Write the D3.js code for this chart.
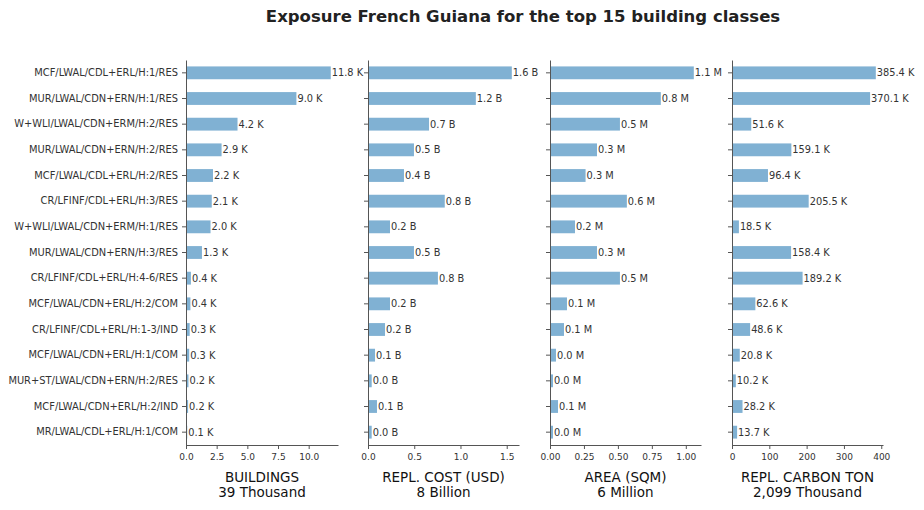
<!DOCTYPE html>
<html>
<head>
<meta charset="utf-8">
<script src="https://cdn.jsdelivr.net/npm/d3@7"></script>
<style>
	body { margin: 0; background: #fff; }
	svg { font-family: "DejaVu Sans", sans-serif; }
</style>
</head>
<body>
<svg id="chart" width="924" height="510"></svg>
<script>
const categories = [
	'MCF/LWAL/CDL+ERL/H:1/RES',
	'MUR/LWAL/CDN+ERN/H:1/RES',
	'W+WLI/LWAL/CDN+ERM/H:2/RES',
	'MUR/LWAL/CDN+ERN/H:2/RES',
	'MCF/LWAL/CDL+ERL/H:2/RES',
	'CR/LFINF/CDL+ERL/H:3/RES',
	'W+WLI/LWAL/CDN+ERM/H:1/RES',
	'MUR/LWAL/CDN+ERN/H:3/RES',
	'CR/LFINF/CDL+ERL/H:4-6/RES',
	'MCF/LWAL/CDN+ERL/H:2/COM',
	'CR/LFINF/CDL+ERL/H:1-3/IND',
	'MCF/LWAL/CDN+ERL/H:1/COM',
	'MUR+ST/LWAL/CDN+ERN/H:2/RES',
	'MCF/LWAL/CDN+ERL/H:2/IND',
	'MR/LWAL/CDL+ERL/H:1/COM'
];

// thousands
const buildings = [11.8, 9.0, 4.2, 2.9, 2.2, 2.1, 2.0, 1.3, 0.4, 0.36, 0.3, 0.26, 0.2, 0.17, 0.1];
// billions USD
const replCost = [1.555, 1.166, 0.66, 0.497, 0.389, 0.83, 0.238, 0.497, 0.756, 0.238, 0.184, 0.076, 0.04, 0.097, 0.04];
// millions sqm
const area = [1.059, 0.816, 0.515, 0.346, 0.262, 0.566, 0.184, 0.346, 0.515, 0.125, 0.103, 0.044, 0.022, 0.059, 0.022];
// thousands tons
const carbon = [385.4, 370.1, 51.6, 159.1, 96.4, 205.5, 18.5, 158.4, 189.2, 62.6, 48.6, 20.8, 10.2, 28.2, 13.7];

const panels = [
	{values: buildings, unit: 'K', title: 'BUILDINGS', total: '39 Thousand', ticks: [0, 2.5, 5, 7.5, 10], fmt: d3.format('.1f'), x0: 186, x1: 338},
	{values: replCost, unit: 'B', title: 'REPL. COST (USD)', total: '8 Billion', ticks: [0, 0.5, 1, 1.5], fmt: d3.format('.1f'), x0: 368, x1: 519},
	{values: area, unit: 'M', title: 'AREA (SQM)', total: '6 Million', ticks: [0, 0.25, 0.5, 0.75, 1], fmt: d3.format('.2f'), x0: 550, x1: 701},
	{values: carbon, unit: 'K', title: 'REPL. CARBON TON', total: '2,099 Thousand', ticks: [0, 100, 200, 300, 400], fmt: d3.format('d'), x0: 732, x1: 883}
];

const BAR_COLOR = '#80b1d3';
const TEXT_COLOR = '#333';
const SPINE_COLOR = '#555';

const svg = d3.select('#chart');

svg.append('text')
	.attr('x', 523)
	.attr('y', 22)
	.attr('text-anchor', 'middle')
	.attr('font-size', 16.5)
	.attr('font-weight', 'bold')
	.attr('fill', '#222')
	.text('Exposure French Guiana for the top 15 building classes');

const y = d3.scaleBand()
	.domain(categories)
	.range([60, 445])
	.paddingInner(0.5)
	.paddingOuter(0.25);

panels.forEach((p, i) => {
	const x = d3.scaleLinear()
		.domain([0, d3.max(p.values) * 1.05])
		.range([p.x0, p.x1]);

	const g = svg.append('g');

	g.selectAll('rect')
		.data(p.values)
		.join('rect')
		.attr('x', x(0))
		.attr('y', (d, j) => y(categories[j]))
		.attr('width', d => x(d) - x(0))
		.attr('height', y.bandwidth())
		.attr('fill', BAR_COLOR);

	g.selectAll('text.value')
		.data(p.values)
		.join('text')
		.attr('class', 'value')
		.attr('x', d => x(d) + 1)
		.attr('y', (d, j) => y(categories[j]) + y.bandwidth() / 2)
		.attr('dy', '0.35em')
		.attr('font-size', 9.8)
		.attr('fill', TEXT_COLOR)
		.text(d => d.toFixed(1) + ' ' + p.unit);

	const yAxis = g.append('g')
		.attr('transform', `translate(${p.x0},0)`)
		.call(d3.axisLeft(y).tickSize(4).tickPadding(4).tickSizeOuter(0));

	if (i > 0) {
		yAxis.selectAll('.tick text').remove();
	}

	const xAxis = g.append('g')
		.attr('transform', 'translate(0,445)')
		.call(d3.axisBottom(x).tickValues(p.ticks).tickFormat(p.fmt).tickSize(4).tickPadding(5).tickSizeOuter(0));

	[yAxis, xAxis].forEach(a => {
		a.select('.domain').attr('stroke', SPINE_COLOR);
		a.selectAll('.tick line').attr('stroke', SPINE_COLOR);
		a.selectAll('.tick text')
			.attr('fill', TEXT_COLOR)
			.attr('font-size', 9.9)
			.attr('font-family', '"DejaVu Sans", sans-serif');
	});
	xAxis.selectAll('.tick text').attr('font-size', 9);

	const cx = (p.x0 + p.x1) / 2;

	g.append('text')
		.attr('x', cx)
		.attr('y', 482)
		.attr('text-anchor', 'middle')
		.attr('font-size', 13.5)
		.attr('fill', '#111')
		.text(p.title);

	g.append('text')
		.attr('x', cx)
		.attr('y', 497)
		.attr('text-anchor', 'middle')
		.attr('font-size', 13.5)
		.attr('fill', '#111')
		.text(p.total);
});
</script>
</body>
</html>
